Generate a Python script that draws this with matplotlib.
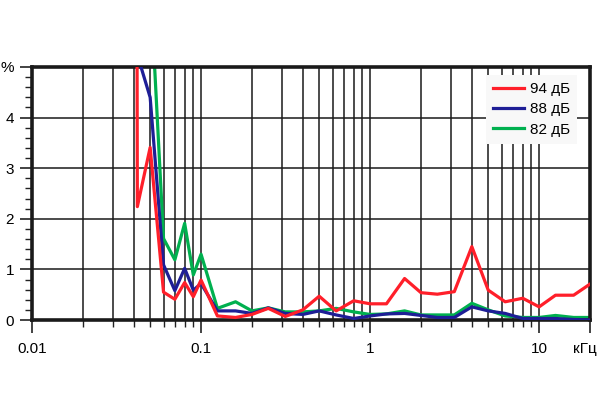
import matplotlib
matplotlib.use("Agg")
import matplotlib.pyplot as plt
import matplotlib.transforms as mtransforms
from matplotlib.ticker import FixedLocator, LogLocator, MultipleLocator, NullFormatter

plt.rcParams['font.family'] = ['Liberation Sans', 'DejaVu Sans']

# frequency points, kHz
freq = [0.040, 0.042, 0.05, 0.06, 0.07, 0.08, 0.09,
        0.1, 0.125, 0.16, 0.2, 0.25, 0.315, 0.4, 0.5, 0.63, 0.8,
        1.0, 1.25, 1.6, 2.0, 2.5, 3.15, 4.0, 5.0, 6.3, 8.0,
        10.0, 12.5, 16.0, 20.0]

# THD, %
thd_94 = [40.0, 2.24, 3.41, 0.55, 0.41, 0.74, 0.46,
          0.79, 0.08, 0.05, 0.11, 0.23, 0.07, 0.20, 0.47, 0.18, 0.38,
          0.32, 0.32, 0.82, 0.54, 0.51, 0.56, 1.45, 0.59, 0.36, 0.43,
          0.26, 0.49, 0.49, 0.71]
thd_88 = [5.45, 5.24, 4.40, 1.09, 0.58, 1.02, 0.59,
          0.72, 0.18, 0.18, 0.13, 0.24, 0.13, 0.11, 0.18, 0.10, 0.03,
          0.08, 0.12, 0.13, 0.09, 0.05, 0.05, 0.26, 0.18, 0.13, 0.03,
          0.03, 0.03, 0.01, 0.00]
thd_82 = [9.0, 8.5, 6.7, 1.61, 1.19, 1.91, 0.89,
          1.30, 0.23, 0.36, 0.18, 0.24, 0.16, 0.16, 0.18, 0.23, 0.16,
          0.11, 0.12, 0.18, 0.10, 0.10, 0.10, 0.33, 0.20, 0.08, 0.05,
          0.05, 0.09, 0.05, 0.05]

series_labels = ['94 дБ', '88 дБ', '82 дБ']
x_ticks = [0.01, 0.1, 1, 10, 20]
x_tick_labels = ['0.01', '0.1', '1', '10', 'кГц']
y_ticks = [0, 1, 2, 3, 4, 5]
y_tick_labels = ['0', '1', '2', '3', '4', '%']

fig = plt.figure(figsize=(6, 4.2), dpi=100)
ax = fig.add_axes([32 / 600, 1 - 320 / 420, 558 / 600, 253 / 420])

ax.plot(freq, thd_94, color='#ff1f2a', lw=2.3, label=series_labels[0], zorder=4)
ax.plot(freq, thd_88, color='#1e1e96', lw=2.3, label=series_labels[1], zorder=3)
ax.plot(freq, thd_82, color='#00b04f', lw=2.3, label=series_labels[2], zorder=2)

ax.set_xscale('log')
ax.set_xlim(0.01, 20)
ax.set_ylim(0, 5)

ax.xaxis.set_major_locator(FixedLocator(x_ticks))
ax.set_xticklabels(x_tick_labels)
ax.xaxis.set_minor_locator(LogLocator(base=10, subs=[2, 3, 4, 5, 6, 7, 8, 9]))
ax.xaxis.set_minor_formatter(NullFormatter())
ax.yaxis.set_major_locator(FixedLocator(y_ticks))
ax.set_yticklabels(y_tick_labels)
ax.yaxis.set_minor_locator(MultipleLocator(0.2))

ax.tick_params(axis='both', which='major', direction='out', length=9, width=1.2,
               labelsize=11, color='#222222')
ax.tick_params(axis='both', which='minor', direction='out', length=5, width=1.0,
               color='#222222')
ax.tick_params(axis='x', which='major', pad=7)
ax.tick_params(axis='y', which='major', pad=4)

# unit label sits a bit left of the last tick
unit_lbl = ax.get_xticklabels()[-1]
unit_lbl.set_transform(unit_lbl.get_transform() +
                       mtransforms.ScaledTranslation(-5 / 100, 0, fig.dpi_scale_trans))

ax.grid(True, axis='x', which='both', color='#1a1a1a', lw=1.1)
ax.grid(True, axis='y', which='major', color='#1a1a1a', lw=1.1)
ax.set_axisbelow(True)

for sp in ax.spines.values():
    sp.set_linewidth(2.6)
    sp.set_color('#1a1a1a')

leg = ax.legend(loc='upper right', bbox_to_anchor=(545 / 558, 245 / 253),
                fontsize=11, frameon=True, fancybox=False,
                framealpha=1, handlelength=2.0, borderaxespad=0,
                labelspacing=0.42, handletextpad=0.4, borderpad=0.45)
leg.get_frame().set_facecolor('#f8f8f8')
leg.get_frame().set_edgecolor('none')

fig.savefig('out.png', dpi=100)
